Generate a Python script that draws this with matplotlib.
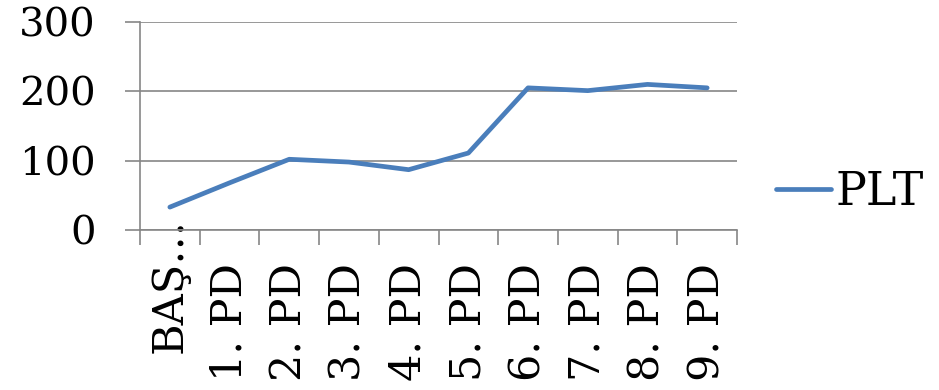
import numpy as np
import matplotlib
matplotlib.use("Agg")
import matplotlib.pyplot as plt
import matplotlib.transforms as mtransforms
from matplotlib.ticker import FixedLocator

# Chart data
categories = ["BAŞ…", "1. PD", "2. PD", "3. PD", "4. PD", "5. PD",
              "6. PD", "7. PD", "8. PD", "9. PD"]
plt_values = [33, 68, 102, 98, 87, 111, 205, 201, 210, 205]
y_ticks = [0, 100, 200, 300]

plt.rcParams['font.family'] = ['DejaVu Serif']
grid_color = '#868686'
line_color = '#4a7ebb'

fig = plt.figure(figsize=(9.39, 3.9), dpi=100)
ax = fig.add_axes([140 / 939, 1 - 230 / 390, 597 / 939, 208 / 390])

x = np.arange(len(categories))
ax.plot(x, plt_values, color=line_color, linewidth=3.4, solid_capstyle='round',
        label='PLT')

ax.set_xlim(-0.5, len(categories) - 0.5)
ax.set_ylim(0, 300)
ax.set_yticks(y_ticks)
ax.set_xticks(x)
ax.set_xticklabels(categories, rotation=90, fontsize=31)
ax.xaxis.set_minor_locator(FixedLocator(np.arange(-0.5, len(categories), 1.0)))
ax.tick_params(axis='x', which='major', length=0, pad=24)
ax.tick_params(axis='x', which='minor', length=11, width=1.2, color=grid_color)
ax.tick_params(axis='y', length=11, width=1.2, color=grid_color, pad=21,
               labelsize=29)

# the first (truncated) label sits higher, overlapping the axis
first = ax.get_xticklabels()[0]
first.set_transform(first.get_transform() +
                    mtransforms.ScaledTranslation(0, 0.45, fig.dpi_scale_trans))

ax.grid(axis='y', color=grid_color, linewidth=1.2)
ax.set_axisbelow(True)
for side in ['top', 'right']:
    ax.spines[side].set_visible(False)
for side in ['left', 'bottom']:
    ax.spines[side].set_color(grid_color)
    ax.spines[side].set_linewidth(1.2)

fig.legend(loc='center left', bbox_to_anchor=(776 / 939, 1 - 192 / 390),
           frameon=False, fontsize=33, handlelength=1.2, handletextpad=0.1,
           borderaxespad=0, borderpad=0)

fig.savefig('out.png', dpi=100)
